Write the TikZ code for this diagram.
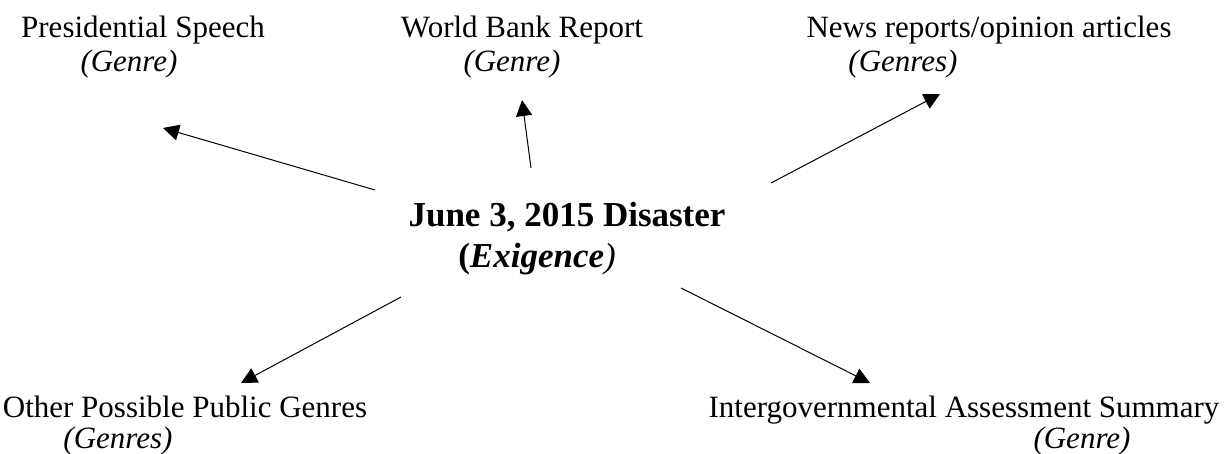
\documentclass[tikz,border=0pt]{standalone}
\usepackage{fontspec}
\setmainfont{Liberation Serif}
\usetikzlibrary{arrows.meta,positioning}
\tikzset{
  % plain text lines, placed on their baseline
  genre/.style={anchor=base, inner sep=0pt, font=\fontsize{31}{36}\selectfont},
  exig/.style={anchor=base, inner sep=0pt, font=\fontsize{35}{40}\selectfont\bfseries},
  link/.style={line width=1pt, -{Triangle[length=16pt,width=16pt]}}}
\begin{document}
\begin{tikzpicture}[x=1pt,y=-1pt]
\useasboundingbox (0,0) rectangle (1230,454);

\draw (567,227) node (ex) [exig] {June 3, 2015 Disaster};
\draw (537,267) node (exb) [exig] {(\textit{Exigence}\textmd{\textit{)}}};

\draw (143,38) node (ps) [genre] {Presidential Speech};
\draw (129,72) node (psg) [genre] {\textit{(Genre)}};

\draw (522,38) node (wb) [genre] {World Bank Report};
\draw (512,72) node (wbg) [genre] {\textit{(Genre)}};

\draw (989,38) node (nr) [genre] {News reports/opinion articles};
\draw (903,72) node (nrg) [genre] {\textit{(Genres)}};

\draw (185,417) node (op) [genre] {Other Possible Public Genres};
\draw (118,448) node (opg) [genre] {\textit{(Genres)}};

\draw (964,417) node (ia) [genre] {Intergovernmental Assessment Summary};
\draw (1082,448) node (iag) [genre] {\textit{(Genre)}};

% arrow ends
\coordinate (s1) at (375,190);  \coordinate (e1) at (163,128);
\coordinate (s2) at (531,168);  \coordinate (e2) at (522,100);
\coordinate (s3) at (771,183);  \coordinate (e3) at (940,94);
\coordinate (s4) at (401,297);  \coordinate (e4) at (241,383);
\coordinate (s5) at (681,288);  \coordinate (e5) at (870,383);

\draw [link] (s1) -- (e1);
\draw [link] (s2) -- (e2);
\draw [link] (s3) -- (e3);
\draw [link] (s4) -- (e4);
\draw [link] (s5) -- (e5);

\end{tikzpicture}
\end{document}
